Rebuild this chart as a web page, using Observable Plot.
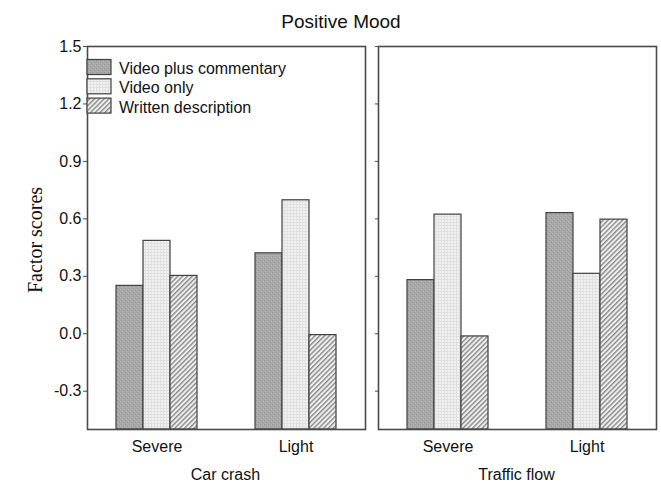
<!DOCTYPE html>
<html>
<head>
<meta charset="utf-8">
<script src="https://cdn.jsdelivr.net/npm/d3@7"></script>
<script src="https://cdn.jsdelivr.net/npm/@observablehq/plot@0.6"></script>
<style>
  body { margin: 0; background: #fff; }
  #chart { position: relative; width: 661px; height: 482px; font-family: Arial, "Liberation Sans", sans-serif; color: #111; overflow: hidden; }
  #chart > svg, #chart > figure { position: absolute; top: 0; margin: 0; }
  #overlay { position: absolute; left: 0; top: 0; pointer-events: none; }
</style>
</head>
<body>
<svg width="0" height="0" style="position:absolute">
  <defs>
    <pattern id="p-vpc" width="4" height="4" patternUnits="userSpaceOnUse">
      <rect width="4" height="4" fill="#a8a8a8"/>
      <rect x="0" y="0" width="1" height="1" fill="#979797"/>
      <rect x="2" y="2" width="1" height="1" fill="#979797"/>
      <rect x="1" y="3" width="1" height="1" fill="#b8b8b8"/>
      <rect x="3" y="1" width="1" height="1" fill="#b8b8b8"/>
    </pattern>
    <pattern id="p-vo" width="3" height="3" patternUnits="userSpaceOnUse">
      <rect width="3" height="3" fill="#f1f1f1"/>
      <rect x="0" y="0" width="3" height="1" fill="#e0e0e0"/>
      <rect x="0" y="0" width="1" height="3" fill="#e0e0e0"/>
    </pattern>
    <pattern id="p-wd" width="3.4" height="4" patternUnits="userSpaceOnUse" patternTransform="rotate(45)">
      <rect width="3.4" height="4" fill="#efefef"/>
      <rect x="0" y="0" width="1.4" height="4" fill="#8a8a8a"/>
    </pattern>
  </defs>
</svg>
<div id="chart"></div>
<script>
// ---- data ----
const panels = ["Car crash", "Traffic flow"];
const severities = ["Severe", "Light"];
const series = ["Video plus commentary", "Video only", "Written description"];
// values ordered: [Car crash Severe, Car crash Light, Traffic flow Severe, Traffic flow Light]
const videoPlusCommentary = [0.25, 0.42, 0.28, 0.63];
const videoOnly = [0.485, 0.697, 0.622, 0.313];
const writtenDescription = [0.302, -0.007, -0.014, 0.596];
const yTicks = [-0.3, 0.0, 0.3, 0.6, 0.9, 1.2, 1.5];
const yDomain = [-0.5, 1.5];
const title = "Positive Mood";
const yLabel = "Factor scores";

const patterns = {
  "Video plus commentary": "url(#p-vpc)",
  "Video only": "url(#p-vo)",
  "Written description": "url(#p-wd)"
};

const seriesValues = [videoPlusCommentary, videoOnly, writtenDescription];
const rows = [];
panels.forEach((p, pi) => severities.forEach((s, si) => series.forEach((k, ki) => {
  rows.push({panel: p, severity: s, series: k, value: seriesValues[ki][pi * 2 + si]});
})));

const fmt = d => d.toFixed(1);
const FONT = 'Arial, "Liberation Sans", sans-serif';

function panelPlot(i, width, marginLeft, showLabels) {
  const data = rows.filter(d => d.panel === panels[i]);
  return Plot.plot({
    width, height: 482,
    marginLeft, marginRight: 5, marginTop: 46, marginBottom: 53,
    style: {background: "transparent", fontFamily: FONT, fontSize: "16px", color: "#111", overflow: "visible"},
    fx: {domain: severities, paddingInner: 0, paddingOuter: 0, label: null},
    x: {domain: series, paddingInner: 0, paddingOuter: 0.99, axis: null},
    y: {domain: yDomain},
    color: {type: "identity"},
    marks: [
      Plot.barY(data, {
        fx: "severity", x: "series", y1: yDomain[0], y2: "value",
        fill: d => patterns[d.series], stroke: "#404040", strokeWidth: 1.2
      }),
      Plot.frame({facet: "super", stroke: "#4a4a4a", strokeWidth: 1.6}),
      Plot.axisY(yTicks, {
        tickFormat: showLabels ? fmt : () => "", tickSize: showLabels ? 4 : 3, tickPadding: 2,
        label: null, fontSize: 16, stroke: "#4a4a4a"
      }),
      Plot.axisFx({anchor: "bottom", tickSize: 0, tickPadding: 11, label: null, fontSize: 16})
    ]
  });
}

const chart = document.getElementById("chart");
const p1 = panelPlot(0, 370, 86, true);
p1.style.left = "0px";
chart.appendChild(p1);
const p2 = panelPlot(1, 296, 12, false);
p2.style.left = "365px";
chart.appendChild(p2);

// overlay text: title, y label, panel names, legend
const ov = d3.select(chart).append("svg").attr("id", "overlay")
  .attr("width", 661).attr("height", 482)
  .style("font-family", FONT);

ov.append("text").attr("x", 341).attr("y", 28).attr("text-anchor", "middle")
  .attr("font-size", 19).attr("fill", "#111").text(title);

ov.append("text").attr("transform", "translate(35,240) rotate(-90)")
  .attr("text-anchor", "middle").attr("dominant-baseline", "central")
  .attr("font-family", '"Liberation Serif", "DejaVu Serif", serif')
  .attr("font-size", 20).attr("fill", "#111").text(yLabel);

const panelCenters = [225.5, 516.5];
panels.forEach((p, i) => {
  ov.append("text").attr("x", panelCenters[i]).attr("y", 480).attr("text-anchor", "middle")
    .attr("font-size", 16).attr("fill", "#111").text(p);
});

const lg = ov.append("g");
series.forEach((k, i) => {
  const y0 = 59.5 + i * 19.3;
  lg.append("rect").attr("x", 87).attr("y", y0).attr("width", 24).attr("height", 15)
    .attr("fill", patterns[k]).attr("stroke", "#404040").attr("stroke-width", 1.2);
  lg.append("text").attr("x", 119).attr("y", y0 + 14.5).attr("font-size", 16)
    .attr("fill", "#111").text(k);
});
</script>
</body>
</html>
